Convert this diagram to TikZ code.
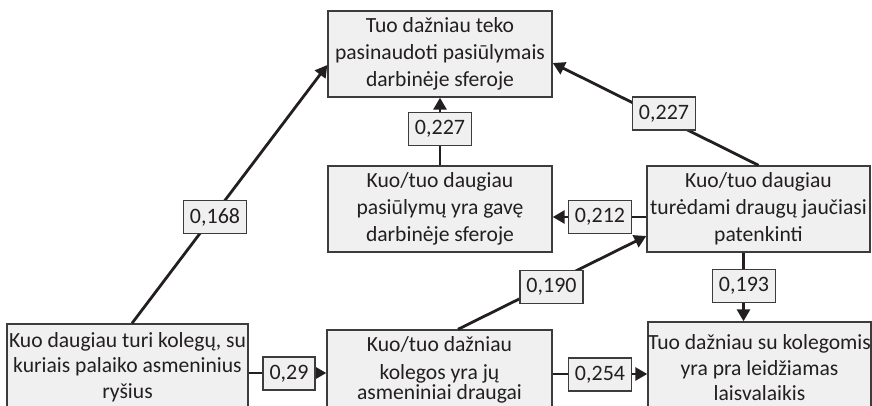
\documentclass[tikz,border=0pt]{standalone}
\usepackage{fontspec}
\setmainfont{Carlito}
\usetikzlibrary{arrows.meta}
\definecolor{boxfill}{HTML}{EFF0EF}
\definecolor{ink}{HTML}{231F20}
\definecolor{edgec}{HTML}{3C3C3C}
\begin{document}
\begin{tikzpicture}[x=1pt,y=-1pt,
  box/.style={draw=edgec, line width=1.4pt, fill=boxfill, text=ink, align=center, inner sep=0pt, font=\fontsize{21.6}{27}\selectfont},
  lowbox/.style={box, font=\fontsize{21.6}{25.5}\selectfont},
  lab/.style={draw=edgec, line width=1.4pt, fill=boxfill, text=ink, inner xsep=6.5pt, inner ysep=0pt, minimum height=33pt, font=\fontsize{22}{25}\selectfont},
  conn/.style={draw=ink, line width=2.8pt},
  arr/.style={conn, -{Triangle[length=12pt,width=13pt]}}]
\clip (0,0) rectangle (872,406);
% boxes
\node[box, minimum width=224pt, minimum height=86pt] (top) at (440,54) {Tuo dažniau teko\\pasinaudoti pasiūlymais\\darbinėje sferoje};
\node[box, minimum width=224pt, minimum height=86pt] (ml) at (440,209) {Kuo/tuo daugiau\\pasiūlymų yra gavę\\darbinėje sferoje};
\node[box, minimum width=223pt, minimum height=86pt] (rb) at (758.5,209) {Kuo/tuo daugiau\\turėdami draugų jaučiasi\\patenkinti};
\node[lowbox, minimum width=241pt, minimum height=86pt] (bl) at (127.5,367) {Kuo daugiau turi kolegų, su\\kuriais palaiko asmeninius\\ryšius};
\node[lowbox, minimum width=225pt, minimum height=80pt] (bm) at (439.5,370) {Kuo/tuo dažniau\\[2pt]kolegos yra jų\\[-5pt]asmeniniai draugai};
\node[lowbox, minimum width=223pt, minimum height=92pt] (br) at (759.5,368) {Tuo dažniau su kolegomis\\yra pra leidžiamas\\laisvalaikis};
% connectors
\draw[arr] ([xshift=4.5pt]bl.north) -- ([yshift=-11pt]top.west);
\draw[arr] (rb.north) -- ([yshift=-9pt]top.east);
\draw[arr] (ml.north) -- (top.south);
\draw[arr] ([yshift=-8pt]rb.west) -- ([yshift=-8pt]ml.east);
\draw[arr] ([xshift=18.5pt]bm.north) -- ([yshift=-27pt]rb.west);
\path ([xshift=-15pt]rb.south) coordinate (p193);
\draw[arr] (p193) -- (p193 |- br.north);
\path ([yshift=-6pt]bl.east) coordinate (p29);
\draw[arr] (p29) -- (p29 -| bm.west);
\path ([yshift=-4pt]bm.east) coordinate (p254);
\draw[arr] (p254) -- (p254 -| br.west);
% coefficient labels
\node[lab] (l168) at (215,217) {0,168};
\node[lab] (l227b) at (664,113.5) {0,227};
\node[lab] (l227a) at (440,129) {0,227};
\node[lab] (l212) at (600,217) {0,212};
\node[lab] (l190) at (551.5,287) {0,190};
\node[lab] (l193) at (744,286) {0,193};
\node[lab] (l29) at (289,373.5) {0,29};
\node[lab] (l254) at (600,374.5) {0,254};
\end{tikzpicture}
\end{document}
